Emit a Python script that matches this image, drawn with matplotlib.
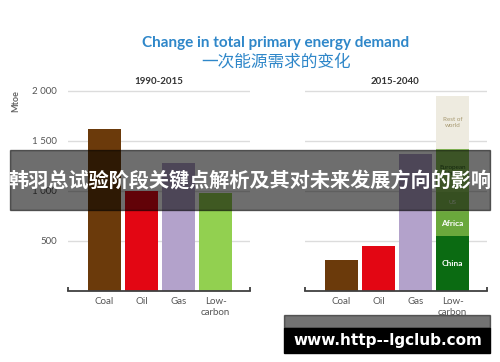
import matplotlib.pyplot as plt
from matplotlib.patches import Rectangle

plt.rcParams['font.family'] = ['Lato', 'Noto Sans CJK SC', 'DejaVu Sans']

# datos
categorias = ["Coal", "Oil", "Gas", "Low-\ncarbon"]
colores = ["#6b3a0b", "#e30613", "#b3a2cb", "#92d050"]
valores_1990_2015 = [1620, 1000, 1280, 985]
valores_2015_2040 = [310, 450, 1370]
regiones = ["China", "Africa", "US", "European\nUnion", "Rest of\nworld"]
bajo_carbono_2040 = [550, 240, 200, 430, 530]
colores_regiones = ["#0b6b12", "#6aa83c", "#7fb84e", "#8cc35a", "#eeebe0"]
texto_regiones = ["white", "white", "#d8e6cc", "#2d5a1e", "#a89a72"]
yticks = [500, 1000, 1500, 2000]
ytick_labels = ["500", "1 000", "1 500", "2 000"]

W, H = 500, 362
fig = plt.figure(figsize=(W / 100, H / 100), dpi=100)


def px(x, y):
    return x / W, 1 - y / H


def ejes(x0):
    ax = fig.add_axes([x0 / W, (H - 291) / H, 182 / W, 206 / H])
    ax.set_ylim(0, 2060)
    ax.set_xlim(-0.99, 3.93)
    ax.set_yticks(yticks)
    ax.grid(axis="y", color="#dcdcdc", linewidth=1)
    ax.set_axisbelow(True)
    for s in ["top", "right", "left"]:
        ax.spines[s].set_visible(False)
    ax.spines["bottom"].set_color("#404040")
    ax.spines["bottom"].set_linewidth(1.3)
    ax.set_xticks(range(4))
    ax.set_xticklabels(categorias, fontsize=7, color="#555555", linespacing=1.3)
    ax.tick_params(axis="x", length=0, pad=4)
    ax.set_xticks([-0.99, 3.93], minor=True)
    ax.tick_params(axis="x", which="minor", length=3, width=1.3, color="#404040", direction="in")
    return ax


ax1 = ejes(68)
ax1.bar(range(4), valores_1990_2015, width=0.9, color=colores)
ax1.set_yticklabels(ytick_labels, fontsize=7, color="#555555")
ax1.tick_params(axis="y", length=0, pad=8)

ax2 = ejes(305)
ax2.bar(range(3), valores_2015_2040, width=0.9, color=colores[:3])
ax2.set_yticklabels([])
ax2.tick_params(axis="y", length=0)
base = 0
for reg, v, c, tc in zip(regiones, bajo_carbono_2040, colores_regiones, texto_regiones):
    ax2.bar(3, v, bottom=base, width=0.9, color=c)
    grande = reg in ("China", "Africa")
    ax2.text(3, base + v / 2, reg, ha="center", va="center", color=tc,
             fontsize=6 if grande else 4.5, fontweight="bold" if grande else "normal",
             linespacing=1.1)
    base += v

# titulos
fig.text(*px(276, 43), "Change in total primary energy demand", ha="center", va="center",
         fontsize=11, fontweight="bold", color="#2f87c9")
fig.text(*px(276, 62), "一次能源需求的变化", ha="center", va="center",
         fontsize=12, color="#2f87c9", family=["Noto Sans CJK SC", "DejaVu Sans"])
fig.text(*px(159, 81), "1990-2015", ha="center", va="center", fontsize=7, fontweight="bold", color="#333333")
fig.text(*px(395, 81), "2015-2040", ha="center", va="center", fontsize=7, fontweight="bold", color="#333333")
fig.text(*px(16, 101), "Mtoe", ha="center", va="center", rotation=90, fontsize=6.5,
         fontweight="bold", color="#666666")

# banda superpuesta
fig.patches.append(Rectangle(px(10, 210), 480 / W, 60 / H, transform=fig.transFigure,
                             color="black", alpha=0.57, zorder=5))
fig.text(*px(250, 181), "韩羽总试验阶段关键点解析及其对未来发展方向的影响", ha="center", va="center",
         fontsize=14.5, fontweight="bold", color="white", zorder=6,
         family=["Noto Sans CJK SC", "DejaVu Sans"])

# marca de agua
fig.patches.append(Rectangle(px(284, 328), 206 / W, 13 / H, transform=fig.transFigure,
                             color="black", alpha=0.55, zorder=5))
fig.patches.append(Rectangle(px(284, 353), 206 / W, 25 / H, transform=fig.transFigure,
                             color="black", zorder=5))
fig.text(*px(388, 340), "www.http--lgclub.com", ha="center", va="center", fontsize=11,
         fontweight="bold", color="white", zorder=6, family=["DejaVu Sans"])

fig.savefig("out.png", dpi=100)
